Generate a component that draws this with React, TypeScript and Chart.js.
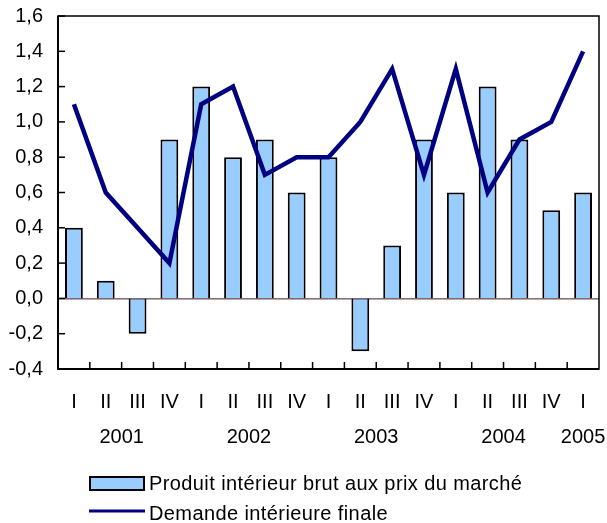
import React, { useEffect, useRef } from "react";
import { Chart, registerables } from "chart.js";

Chart.register(...registerables);

const quarters = ["I", "II", "III", "IV", "I", "II", "III", "IV", "I", "II", "III", "IV", "I", "II", "III", "IV", "I"];
const years = ["2001", "2002", "2003", "2004", "2005"];
const yearQuarterCounts = [4, 4, 4, 4, 1];
const pibValues = [0.4, 0.1, -0.2, 0.9, 1.2, 0.8, 0.9, 0.6, 0.8, -0.3, 0.3, 0.9, 0.6, 1.2, 0.9, 0.5, 0.6];
const demandeValues = [1.1, 0.6, 0.4, 0.2, 1.1, 1.2, 0.7, 0.8, 0.8, 1.0, 1.3, 0.7, 1.3, 0.6, 0.9, 1.0, 1.4];
const seriesNames = ["Produit intérieur brut aux prix du marché", "Demande intérieure finale"];

const FONT = "'Liberation Sans', Arial, Helvetica, sans-serif";
const FONT_SIZE = 20;

const customPlugin = {
  id: "custom",
  afterDatasetsDraw(chart: any) {
    const ctx = chart.ctx;
    const area = chart.chartArea;
    const y = chart.scales.y;
    ctx.save();
    const y0 = y.getPixelForValue(0);
    ctx.strokeStyle = "#3a1a1a";
    ctx.lineWidth = 1;
    ctx.beginPath();
    ctx.moveTo(area.left, y0 + 0.5);
    ctx.lineTo(area.right, y0 + 0.5);
    ctx.stroke();
    ctx.restore();
  },
  afterDraw(chart: any) {
    const ctx = chart.ctx;
    const area = chart.chartArea;
    const x = chart.scales.x;
    const y = chart.scales.y;
    ctx.save();
    // frame
    ctx.strokeStyle = "#000";
    ctx.lineWidth = 1.5;
    ctx.strokeRect(area.left, area.top, area.right - area.left, area.bottom - area.top);
    ctx.lineWidth = 2;
    ctx.beginPath();
    ctx.moveTo(area.left, area.top);
    ctx.lineTo(area.left, area.bottom);
    ctx.lineTo(area.right, area.bottom);
    ctx.stroke();
    // y ticks inside
    ctx.lineWidth = 1.5;
    y.ticks.forEach((t: any) => {
      const py = y.getPixelForValue(t.value);
      ctx.beginPath();
      ctx.moveTo(area.left, py);
      ctx.lineTo(area.left + 7, py);
      ctx.stroke();
    });
    // x ticks inside (between categories)
    for (let i = 1; i < quarters.length; i++) {
      const px = (x.getPixelForValue(i - 1) + x.getPixelForValue(i)) / 2;
      ctx.beginPath();
      ctx.moveTo(px, area.bottom);
      ctx.lineTo(px, area.bottom - 7);
      ctx.stroke();
    }
    // year labels
    ctx.fillStyle = "#000";
    ctx.font = `${FONT_SIZE}px ${FONT}`;
    ctx.textAlign = "center";
    ctx.textBaseline = "middle";
    let idx = 0;
    years.forEach((yr, k) => {
      const n = yearQuarterCounts[k];
      const cx = (x.getPixelForValue(idx) + x.getPixelForValue(idx + n - 1)) / 2;
      ctx.fillText(yr, cx, 437);
      idx += n;
    });
    // legend
    const ds0 = chart.data.datasets[0];
    const ds1 = chart.data.datasets[1];
    ctx.fillStyle = ds0.backgroundColor;
    ctx.fillRect(90, 477, 54, 13);
    ctx.strokeStyle = "#000";
    ctx.lineWidth = 2;
    ctx.strokeRect(90, 477, 54, 13);
    ctx.strokeStyle = ds1.borderColor;
    ctx.lineWidth = 3;
    ctx.beginPath();
    ctx.moveTo(89, 511);
    ctx.lineTo(145, 511);
    ctx.stroke();
    ctx.fillStyle = "#000";
    ctx.textAlign = "left";
    (ctx as any).letterSpacing = "0.4px";
    ctx.fillText(ds0.label, 149, 484);
    ctx.fillText(ds1.label, 149, 514);
    (ctx as any).letterSpacing = "0px";
    ctx.restore();
  },
};

export default function App() {
  const ref = useRef<HTMLCanvasElement>(null);
  useEffect(() => {
    if (!ref.current) return;
    const chart = new Chart(ref.current, {
      type: "bar",
      data: {
        labels: quarters,
        datasets: [
          {
            type: "bar",
            label: seriesNames[0],
            data: pibValues,
            backgroundColor: "#99CCFF",
            borderColor: "#000",
            borderWidth: 2,
            barPercentage: 0.56,
            categoryPercentage: 1,
            order: 2,
          },
          {
            type: "line",
            label: seriesNames[1],
            data: demandeValues,
            borderColor: "#000080",
            borderWidth: 4.5,
            pointRadius: 0,
            tension: 0,
            order: 1,
          } as any,
        ],
      },
      options: {
        animation: false,
        responsive: false,
        layout: { padding: { top: 16, right: 8, left: 0, bottom: 0 } },
        plugins: { legend: { display: false }, tooltip: { enabled: false } },
        scales: {
          x: {
            type: "category",
            offset: true,
            grid: { display: false, drawTicks: false },
            border: { display: false },
            ticks: { color: "#000", font: { family: FONT, size: FONT_SIZE }, padding: 21, maxRotation: 0, autoSkip: false },
            afterFit: (s: any) => { s.height = 154; s.paddingLeft = 0; s.paddingRight = 0; },
          },
          y: {
            min: -0.4,
            max: 1.6,
            grid: { display: false, drawTicks: false },
            border: { display: false },
            ticks: {
              stepSize: 0.2,
              color: "#000",
              font: { family: FONT, size: FONT_SIZE },
              padding: 15,
              callback: (v: any) => Number(v).toFixed(1).replace(".", ","),
            },
            afterFit: (s: any) => { s.width = 58; s.paddingTop = 0; s.paddingBottom = 0; },
          },
        },
      },
      plugins: [customPlugin],
    });
    return () => chart.destroy();
  }, []);
  return (
    <div style={{ position: "absolute", left: 0, top: 0, width: 607, height: 523, background: "#fff" }}>
      <canvas ref={ref} width={607} height={523} style={{ width: 607, height: 523 }} />
    </div>
  );
}
